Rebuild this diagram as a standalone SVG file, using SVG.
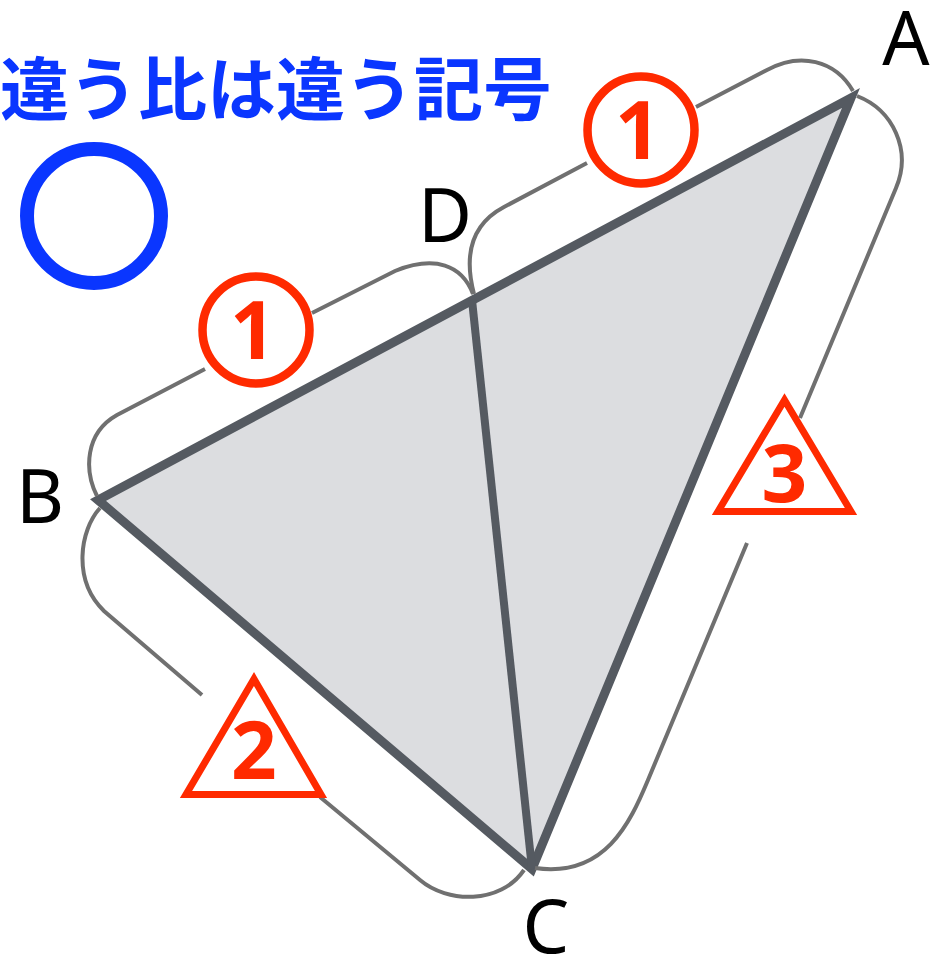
<svg xmlns="http://www.w3.org/2000/svg" width="942" height="955" viewBox="0 0 942 955">
<style>
.edge{fill:#dcdde0;stroke:#555a61;stroke-width:9;stroke-linejoin:miter;stroke-miterlimit:10}
.brk{fill:none;stroke:#707070;stroke-width:4;stroke-linecap:butt}
.lbl{font-family:"Noto Sans","Liberation Sans",sans-serif;font-size:74px;fill:#000;text-anchor:middle}
.num{font-family:"Noto Sans","Liberation Sans",sans-serif;font-size:80px;font-weight:bold;fill:#ff2a00;text-anchor:middle}
.ring{fill:#fff;stroke:#ff2a00;stroke-width:8.5}
.tri{fill:#fff;stroke:#ff2a00;stroke-width:7;stroke-linejoin:miter}
</style>
<rect width="942" height="955" fill="#fff"/>
<g id="title">
<text x="0" y="115" font-family="'Noto Sans CJK JP',sans-serif" font-weight="bold" font-size="69" fill="#0a36ff">違う比は違う記号</text>
</g>
<g id="blue-circle">
<circle cx="94" cy="216" r="67" fill="none" stroke="#0a36ff" stroke-width="14"/>
</g>
<g id="triangle-ABC">
<polygon points="851,98 98,500 532,869" class="edge"/>
</g>
<g id="connectors">
<line x1="472" y1="300" x2="532" y2="869" stroke="#555a61" stroke-width="8"/>
<path class="brk" d="M474 294 C464 256 470 225 504 207 L587 163 M696 107 L767 70 C800 52 835 60 853 91"/>
<path class="brk" d="M473 294 C462 265 435 255 395 271 L312 313 M205 369 L117 415 C85 433 84 470 97 496"/>
<path class="brk" d="M100 508 C80 530 72 580 104 611 L202 695 M320 797 L420 880 C447 903 500 905 524 870"/>
<path class="brk" d="M857 96 C893 110 912 150 896 188 L800 418 M747 543 L648 780 C630 823 605 878 535 868"/>
</g>
<g id="label-A"><text class="lbl" x="906" y="65">A</text></g>
<g id="label-B"><text class="lbl" x="40" y="523">B</text></g>
<g id="label-C"><text class="lbl" x="546" y="953">C</text></g>
<g id="label-D"><text class="lbl" x="445" y="242">D</text></g>
<g id="mark-DA">
<circle class="ring" cx="641" cy="130" r="53.5"/>
<text class="num" x="638" y="159">1</text>
</g>
<g id="mark-BD">
<circle class="ring" cx="256" cy="330" r="53.5"/>
<text class="num" x="253" y="359">1</text>
</g>
<g id="mark-BC">
<polygon class="tri" points="254,679 321,794.5 186,794.5"/>
<text class="num" x="254" y="779">2</text>
</g>
<g id="mark-AC">
<polygon class="tri" points="784.5,400 851,511.5 718,511.5"/>
<text class="num" x="784.5" y="502">3</text>
</g>
</svg>
